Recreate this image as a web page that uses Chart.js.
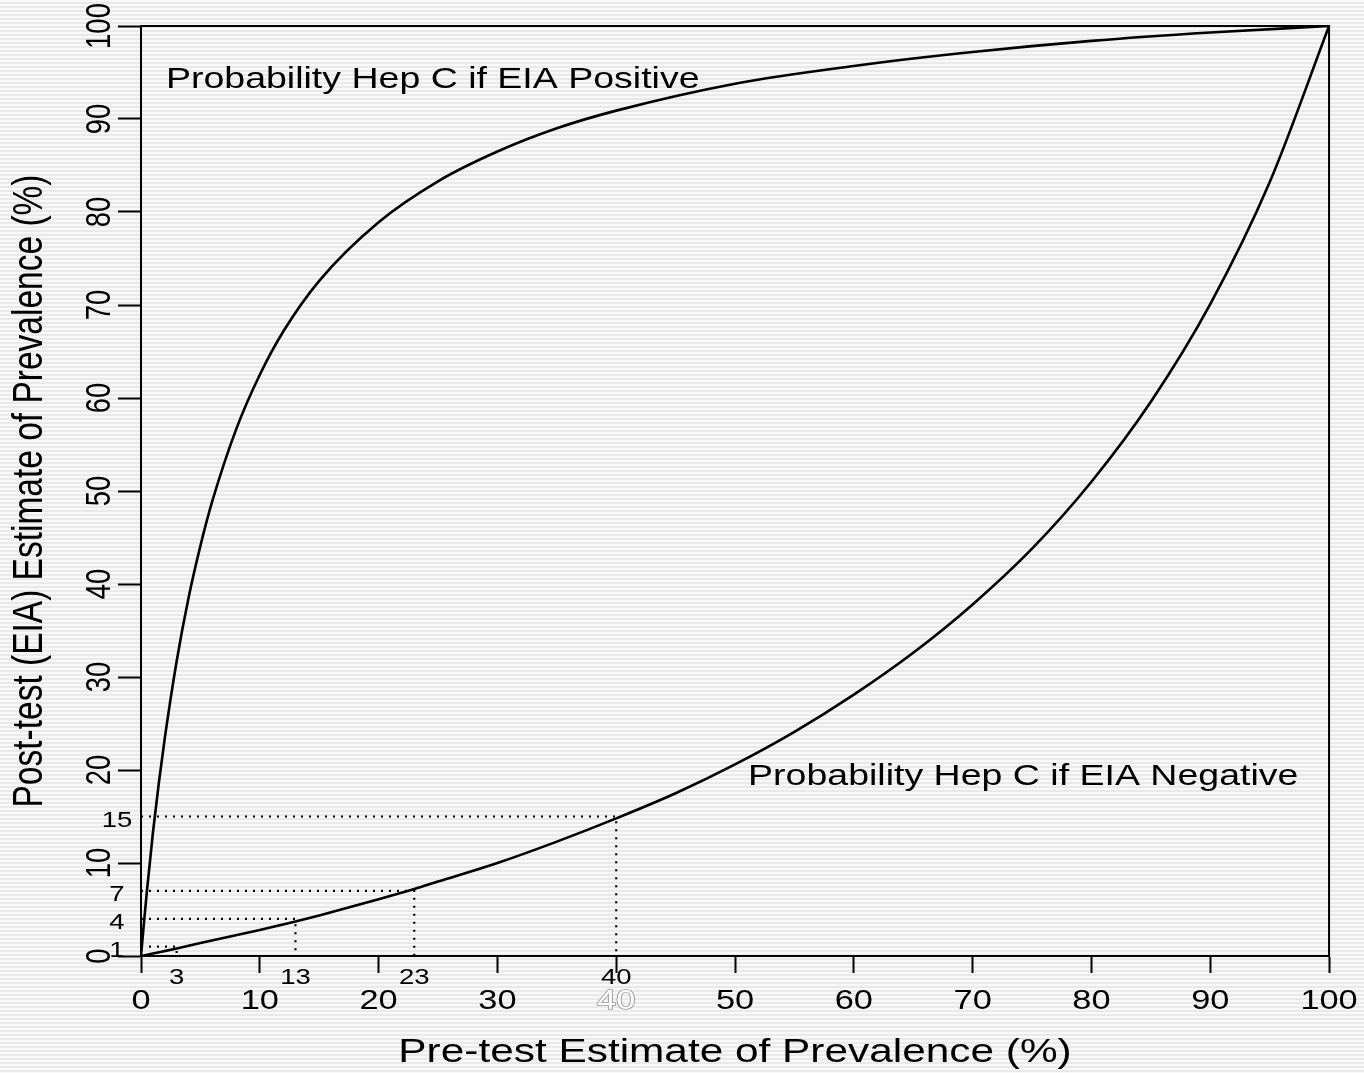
<!DOCTYPE html>
<html>
<head>
<meta charset="utf-8">
<script src="https://cdn.jsdelivr.net/npm/chart.js@4/dist/chart.umd.min.js"></script>
<style>
  html, body { margin: 0; padding: 0; }
  body {
    width: 1364px; height: 1073px; overflow: hidden;
    background: repeating-linear-gradient(to bottom, #f8f8f8 0px, #f8f8f8 2px, #e9e9e9 2px, #e9e9e9 4px);
  }
  #wrap { position: relative; width: 1364px; height: 1073px; }
</style>
</head>
<body>
<div id="wrap"><canvas id="c"></canvas></div>
<script>
// ---- data ----
const pretestPos = [0, 0.25, 0.5, 1, 1.5, 2, 3, 4, 5, 6, 8, 10, 12, 15, 20, 25, 30, 35, 40, 50, 60, 70, 80, 90, 100];
const postPositive = [0, 3.6, 7.0, 13.2, 18.6, 23.4, 31.7, 38.5, 44.1, 48.9, 56.6, 62.5, 67.2, 72.6, 78.9, 83.3, 86.5, 89.0, 90.9, 93.8, 95.7, 97.2, 98.4, 99.3, 100];
const pretestNeg = [0, 3, 5, 10, 13, 15, 20, 23, 25, 30, 35, 40, 45, 50, 55, 60, 65, 70, 75, 80, 85, 90, 95, 100];
const postNegative = [0, 0.8, 1.4, 2.8, 3.7, 4.35, 6.1, 7.2, 8.0, 10.0, 12.3, 14.8, 17.5, 20.6, 24.1, 28.1, 32.6, 37.8, 43.8, 51.0, 59.6, 70.1, 83.2, 100];
const guideX = [3, 13, 23, 40];
const guideY = [1, 4, 7, 15];
const axisTicks = [0, 10, 20, 30, 40, 50, 60, 70, 80, 90, 100];
const curveLabels = ['Probability Hep C if EIA Positive', 'Probability Hep C if EIA Negative'];
const curveLabelAt = [[2.1, 93.3], [51.1, 18.4]];
const xTitle = 'Pre-test Estimate of Prevalence (%)';
const yTitle = 'Post-test (EIA) Estimate of Prevalence (%)';
const ghostTick = 40;

const FONT = '"Liberation Sans", Arial, sans-serif';
const SX = 1.25; // horizontal text stretch seen in the reference

const canvas = document.getElementById('c');
const ctx = canvas.getContext('2d');
function stretched(orig) {
  return function (text, x, y, maxW) {
    const m = ctx.getTransform();
    const p = m.transformPoint(new DOMPoint(x, y));
    ctx.save();
    ctx.setTransform(new DOMMatrix().translate(p.x, p.y).scale(SX, 1).translate(-p.x, -p.y).multiply(m));
    if (maxW === undefined || maxW === null) orig(text, x, y); else orig(text, x, y, maxW);
    ctx.restore();
  };
}
ctx.fillText = stretched(CanvasRenderingContext2D.prototype.fillText.bind(ctx));
ctx.strokeText = stretched(CanvasRenderingContext2D.prototype.strokeText.bind(ctx));

const toXY = (xs, ys) => xs.map((v, i) => ({x: v, y: ys[i]}));

const datasets = [
  {data: toXY(pretestPos, postPositive), borderColor: '#000', borderWidth: 2.6, pointRadius: 0, cubicInterpolationMode: 'monotone', fill: false},
  {data: toXY(pretestNeg, postNegative), borderColor: '#000', borderWidth: 2.6, pointRadius: 0, cubicInterpolationMode: 'monotone', fill: false}
];
guideX.forEach((gx, i) => {
  datasets.push({
    data: [{x: 0, y: guideY[i]}, {x: gx, y: guideY[i]}, {x: gx, y: 0}],
    borderColor: '#000', borderWidth: 2.2, borderDash: [2, 6], borderCapStyle: 'butt',
    pointRadius: 0, tension: 0, fill: false
  });
});

const extras = {
  id: 'extras',
  afterDraw(chart) {
    const {ctx: c, chartArea: a, scales: {x, y}} = chart;
    c.save();
    c.strokeStyle = '#000'; c.lineWidth = 2;
    c.beginPath(); c.moveTo(a.left, a.top); c.lineTo(a.right, a.top); c.lineTo(a.right, a.bottom); c.stroke();
    c.fillStyle = '#000';
    c.font = '30px ' + FONT; c.textAlign = 'left'; c.textBaseline = 'alphabetic';
    curveLabels.forEach((t, i) => c.fillText(t, x.getPixelForValue(curveLabelAt[i][0]), y.getPixelForValue(curveLabelAt[i][1])));
    c.font = '22px ' + FONT; c.textAlign = 'center'; c.textBaseline = 'middle';
    guideY.forEach(v => c.fillText(String(v), a.left - 24, y.getPixelForValue(v) + 4));
    guideX.forEach(v => c.fillText(String(v), x.getPixelForValue(v), a.bottom + 22));
    c.restore();
  }
};

new Chart(canvas, {
  type: 'line',
  data: {datasets},
  plugins: [extras],
  options: {
    responsive: true, maintainAspectRatio: false, animation: false,
    layout: {padding: {top: 26, right: 34, left: 0, bottom: 0}},
    plugins: {legend: {display: false}, tooltip: {enabled: false}},
    scales: {
      x: {
        type: 'linear', min: 0, max: 100,
        afterBuildTicks: s => { s.ticks = axisTicks.map(v => ({value: v})); },
        afterFit: s => { s.height = 117; },
        grid: {display: true, drawOnChartArea: false, drawTicks: true, tickLength: 17, tickWidth: 2, tickColor: '#000'},
        border: {display: true, color: '#000', width: 2},
        ticks: {
          padding: 12, maxRotation: 0, autoSkip: false,
          font: {family: FONT, size: 27.5},
          color: c => (c.tick && c.tick.value === ghostTick) ? '#ffffff' : '#000',
          textStrokeColor: '#9a9a9a',
          textStrokeWidth: c => (c.tick && c.tick.value === ghostTick) ? 1.6 : 0
        },
        title: {display: true, text: xTitle, color: '#000', font: {family: FONT, size: 33.9}, padding: {top: 0, bottom: 0}}
      },
      y: {
        type: 'linear', min: 0, max: 100,
        afterBuildTicks: s => { s.ticks = axisTicks.map(v => ({value: v})); },
        afterFit: s => { s.width = 141; },
        grid: {display: true, drawOnChartArea: false, drawTicks: true, tickLength: 23, tickWidth: 2, tickColor: '#000'},
        border: {display: true, color: '#000', width: 2},
        ticks: {
          minRotation: 90, maxRotation: 90, crossAlign: 'center', padding: -5, autoSkip: false,
          font: {family: FONT, size: 27.5}, color: '#000'
        },
        title: {display: true, text: yTitle, color: '#000', font: {family: FONT, size: 33.5}, padding: {top: 10, bottom: 0}}
      }
    }
  }
});
</script>
</body>
</html>
